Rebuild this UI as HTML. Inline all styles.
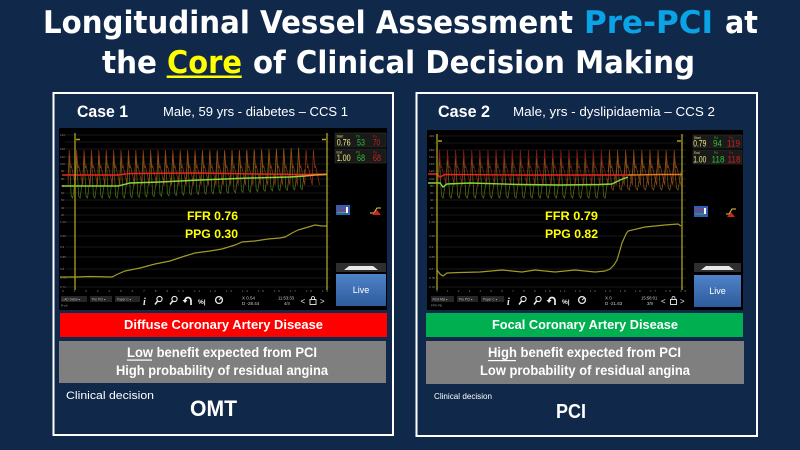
<!DOCTYPE html>
<html><head><meta charset="utf-8"><style>
html,body{margin:0;padding:0;background:#10294a;}
svg{display:block;}
</style></head><body>
<svg xmlns="http://www.w3.org/2000/svg" width="800" height="450" viewBox="0 0 800 450">
<rect x="0" y="0" width="800" height="450" fill="#10294a"/>

<!-- Title -->
<g font-family="'DejaVu Sans', 'Liberation Sans', sans-serif" font-weight="bold" font-size="31" fill="#ffffff">
  <text x="43" y="33" textLength="530" lengthAdjust="spacingAndGlyphs">Longitudinal Vessel Assessment</text>
  <text x="584" y="33" textLength="129" lengthAdjust="spacingAndGlyphs" fill="#0aa4e6">Pre-PCI</text>
  <text x="725" y="33" textLength="33" lengthAdjust="spacingAndGlyphs">at</text>
  <text x="102" y="73" textLength="55" lengthAdjust="spacingAndGlyphs">the</text>
  <text x="167" y="73" textLength="75" lengthAdjust="spacingAndGlyphs" fill="#ffff00">Core</text>
  <text x="253" y="73" textLength="442" lengthAdjust="spacingAndGlyphs">of Clinical Decision Making</text>
</g>
<rect x="166.7" y="75.5" width="75" height="2.5" fill="#ffff00"/>

<!-- Panels -->
<rect x="53.5" y="93" width="339.5" height="342" fill="none" stroke="#ffffff" stroke-width="2"/>
<rect x="416.5" y="93" width="340.5" height="343" fill="none" stroke="#ffffff" stroke-width="2"/>

<!-- Headers -->
<g font-family="'Liberation Sans', sans-serif" fill="#ffffff">
  <text x="77" y="117" font-size="17" font-weight="bold" textLength="51" lengthAdjust="spacingAndGlyphs">Case 1</text>
  <text x="163" y="116" font-size="13" textLength="185" lengthAdjust="spacingAndGlyphs">Male, 59 yrs - diabetes – CCS 1</text>
  <text x="438" y="117" font-size="17" font-weight="bold" textLength="52" lengthAdjust="spacingAndGlyphs">Case 2</text>
  <text x="513" y="116" font-size="13" textLength="202" lengthAdjust="spacingAndGlyphs">Male,  yrs - dyslipidaemia – CCS 2</text>
</g>

<!-- ================= LEFT CHART ================= -->
<rect x="59" y="128" width="328" height="182" fill="#000000"/>
<path d="M65,135H330M65,142H330M65,149H330M65,157H330M65,164H330M65,171H330M65,179H330M65,186H330M65,193H330M65,200H330M65,208H330M65,215H330M65,222H330M65,236H330M65,247H330M65,257H330M65,269H330M65,278H330M65,287H330" stroke="#222" stroke-width="0.7" fill="none"/>
<g font-family="'Liberation Sans', sans-serif" font-size="3" fill="#8a8a8a">
  <text x="60" y="136">140</text><text x="60" y="150">120</text><text x="60" y="158">110</text><text x="60" y="165">100</text><text x="61" y="172">90</text><text x="61" y="180">80</text><text x="61" y="187">70</text><text x="61" y="194">60</text><text x="61" y="201">50</text><text x="61" y="209">40</text><text x="61" y="216">20</text>
  <text x="60" y="223">1.00</text><text x="60" y="237">0.95</text><text x="60" y="248">0.9</text><text x="60" y="258">0.85</text><text x="60" y="270">0.8</text><text x="60" y="279">0.75</text><text x="60" y="288">0.71</text>
  <text x="62" y="292" textLength="266" lengthAdjust="spacing">0&#160;&#160;1&#160;&#160;2&#160;&#160;3&#160;&#160;4&#160;&#160;5&#160;&#160;6&#160;&#160;7&#160;&#160;8&#160;&#160;9&#160;&#160;10&#160;&#160;11&#160;&#160;12&#160;&#160;13&#160;&#160;14&#160;&#160;15&#160;&#160;16&#160;&#160;17&#160;&#160;18&#160;&#160;19</text>
</g>
<!-- waves left -->
<path fill="none" stroke="#5e8a18" stroke-width="0.7" opacity="0.85" d="M68,178l1.2,-22 2,40 1.5,2 2.7,-20 1.2,-22 2,40 1.5,2 2.7,-20 1.2,-22 2,40 1.5,2 2.7,-20 1.2,-22 2,40 1.5,2 2.7,-20 1.2,-22 2,40 1.5,2 2.7,-20 1.2,-22 2,40 1.5,2 2.7,-20 1.2,-22 2,40 1.5,2 2.7,-20 1.2,-22 2,40 1.5,2 2.7,-20.35 1.2,-22 2,40 1.5,2 2.7,-20.35 1.2,-22 2,40 1.5,2 2.7,-20.35 1.2,-22 2,40 1.5,2 2.7,-20.35 1.2,-22 2,40 1.5,2 2.7,-20.35 1.2,-22 2,40 1.5,2 2.7,-20.35 1.2,-22 2,40 1.5,2 2.7,-20.35 1.2,-22 2,40 1.5,2 2.7,-20.35 1.2,-22 2,40 1.5,2 2.7,-20.35 1.2,-22 2,40 1.5,2 2.7,-20.35 1.2,-22 2,40 1.5,2 2.7,-20.35 1.2,-22 2,40 1.5,2 2.7,-20.35 1.2,-22 2,40 1.5,2 2.7,-20.35 1.2,-22 2,40 1.5,2 2.7,-20.35 1.2,-22 2,40 1.5,2 2.7,-20.35 1.2,-22 2,40 1.5,2 2.7,-20.35 1.2,-22 2,40 1.5,2 2.7,-20.35 1.2,-22 2,40 1.5,2 2.7,-20.35 1.2,-22 2,40 1.5,2 2.7,-20.35 1.2,-22 2,40 1.5,2 2.7,-20.35 1.2,-22 2,40 1.5,2 2.7,-20.35 1.2,-22 2,40 1.5,2 2.7,-20.35 1.2,-22 2,40 1.5,2 2.7,-20.35 1.2,-22 2,40 1.5,2 2.7,-20.35 1.2,-22 2,40 1.5,2 2.7,-20.35"/>
<path fill="none" stroke="#b0401a" stroke-width="0.7" opacity="0.85" d="M68,185l1.2,-35 1.4,18 .8,-2 4,19 1.2,-35 1.4,18 .8,-2 4,19 1.2,-35 1.4,18 .8,-2 4,19 1.2,-35 1.4,18 .8,-2 4,19 1.2,-35 1.4,18 .8,-2 4,19 1.2,-35 1.4,18 .8,-2 4,19 1.2,-35 1.4,18 .8,-2 4,19 1.2,-35 1.4,18 .8,-2 4,19 1.2,-35 1.4,18 .8,-2 4,19 1.2,-35 1.4,18 .8,-2 4,19 1.2,-35 1.4,18 .8,-2 4,19 1.2,-35 1.4,18 .8,-2 4,19 1.2,-35 1.4,18 .8,-2 4,19 1.2,-35 1.4,18 .8,-2 4,19 1.2,-35 1.4,18 .8,-2 4,19 1.2,-35 1.4,18 .8,-2 4,19 1.2,-35 1.4,18 .8,-2 4,19 1.2,-35 1.4,18 .8,-2 4,19 1.2,-35 1.4,18 .8,-2 4,19 1.2,-35 1.4,18 .8,-2 4,19 1.2,-35 1.4,18 .8,-2 4,19 1.2,-35 1.4,18 .8,-2 4,19 1.2,-35 1.4,18 .8,-2 4,19 1.2,-35 1.4,18 .8,-2 4,19 1.2,-35 1.4,18 .8,-2 4,19 1.2,-35 1.4,18 .8,-2 4,19 1.2,-35 1.4,18 .8,-2 4,19 1.2,-35 1.4,18 .8,-2 4,19 1.2,-35 1.4,18 .8,-2 4,19 1.2,-35 1.4,18 .8,-2 4,19 1.2,-35 1.4,18 .8,-2 4,19 1.2,-35 1.4,18 .8,-2 4,19 1.2,-35 1.4,18 .8,-2 4,19 1.2,-35 1.4,18 .8,-2 4,19"/>
<!-- mean lines left -->
<polyline fill="none" stroke="#e8281e" stroke-width="1.4" points="62,175 118,175 130,173.5 200,173 260,174 300,174.5 327,174"/>
<polyline fill="none" stroke="#86d83a" stroke-width="1.4" points="62,186 118,186 130,183 160,182 200,180 250,178 290,177 305,176"/>
<polyline fill="none" stroke="#d8a030" stroke-width="1.4" points="305,176 315,175 327,174.5"/>
<!-- lower line left -->
<polyline fill="none" stroke="#a09a28" stroke-width="1.2" points="60,277 75,277 90,276.5 112,277 118,274 125,271 140,268 155,264 170,261 185,256 195,253 210,251 222,249 235,245 242,242 255,241 268,239 280,238 285,237 292,233 298,230 305,228 315,225 322,226 327,226"/>
<!-- vertical markers left -->
<path d="M75,133V290M327,133V290" stroke="#aaa220" stroke-width="1.3"/>
<path d="M76,139.5H80M322,139.5H326" stroke="#aaa220" stroke-width="1.5"/>
<!-- FFR/PPG left -->
<g font-family="'Liberation Sans', sans-serif" font-weight="bold" font-size="12" fill="#ffff00">
  <text x="187" y="220" textLength="51" lengthAdjust="spacingAndGlyphs">FFR 0.76</text>
  <text x="185" y="238" textLength="53" lengthAdjust="spacingAndGlyphs">PPG 0.30</text>
</g>
<!-- sidebar left -->
<rect x="335" y="133" width="51" height="14" fill="#1a1a1a" stroke="#333" stroke-width="0.6"/>
<rect x="335" y="149" width="51" height="14" fill="#1a1a1a" stroke="#333" stroke-width="0.6"/>
<g font-family="'Liberation Sans', sans-serif">
  <text x="336.5" y="137.5" font-size="3.2" fill="#e8e070">Start</text><text x="356" y="137.5" font-size="3.2" fill="#30b030">Pd</text><text x="373" y="137.5" font-size="3.2" fill="#c02020">Pa</text>
  <text x="336.7" y="145.7" font-size="9" fill="#f4f080" textLength="14" lengthAdjust="spacingAndGlyphs">0.76</text>
  <text x="357" y="145.7" font-size="9" fill="#30c030" textLength="8" lengthAdjust="spacingAndGlyphs">53</text>
  <text x="373" y="145.7" font-size="9" fill="#d02020" textLength="7" lengthAdjust="spacingAndGlyphs">70</text>
  <text x="336.5" y="153.5" font-size="3.2" fill="#e8e070">End</text><text x="356" y="153.5" font-size="3.2" fill="#30b030">Pd</text><text x="373" y="153.5" font-size="3.2" fill="#c02020">Pa</text>
  <text x="336.7" y="161" font-size="9" fill="#f4f080" textLength="14" lengthAdjust="spacingAndGlyphs">1.00</text>
  <text x="357" y="161" font-size="9" fill="#30c030" textLength="8" lengthAdjust="spacingAndGlyphs">68</text>
  <text x="373" y="161" font-size="9" fill="#d02020" textLength="8" lengthAdjust="spacingAndGlyphs">68</text>
</g>
<rect x="336" y="205" width="14" height="10" fill="#2b5fb8"/>
<path d="M337,208H348M337,211H346" stroke="#e03030" stroke-width="0.8"/><path d="M337,212.5H346" stroke="#40c040" stroke-width="0.8"/>
<rect x="346" y="207" width="2" height="6" fill="#fff"/>
<path d="M370,213 L374,213 L377,208 L381,208" stroke="#e8d040" stroke-width="1" fill="none"/>
<polygon points="372,215 377,210 381,215" fill="#d02020"/>
<rect x="336" y="263" width="50" height="9" fill="#2e2e2e"/>
<polygon points="344,270 349,266 373,266 378,270" fill="#e8e8e8"/>
<defs>
  <linearGradient id="lv" x1="0" y1="0" x2="0" y2="1"><stop offset="0" stop-color="#4f82c8"/><stop offset="1" stop-color="#2e5c9c"/></linearGradient>
</defs>
<rect x="336" y="274" width="50" height="32" fill="url(#lv)"/>
<text x="361" y="293" font-family="'Liberation Sans', sans-serif" font-size="9" fill="#ffffff" text-anchor="middle">Live</text>
<!-- toolbar left -->
<g font-family="'Liberation Sans', sans-serif">
  <rect x="61" y="296" width="26" height="6" fill="#262626"/><text x="62.5" y="300.3" font-size="3.2" fill="#bbb">LAD Distal  ▾</text>
  <rect x="90" y="296" width="22" height="6" fill="#262626"/><text x="92" y="300.3" font-size="3.2" fill="#bbb">Pre PCI  ▾</text>
  <rect x="115" y="296" width="25" height="6" fill="#262626"/><text x="117" y="300.3" font-size="3.2" fill="#bbb">Paper C  ▾</text>
  <text x="61" y="306.5" font-size="3" fill="#999">R-pb</text>
  <text x="143" y="305" font-size="10" font-style="italic" font-weight="bold" font-family="'Liberation Serif', serif" fill="#eee">i</text>
  <circle cx="159.5" cy="299" r="2.6" fill="none" stroke="#eee" stroke-width="1.1"/><path d="M157.6,301 L155,304.5" stroke="#eee" stroke-width="1.5"/>
  <circle cx="174.5" cy="299" r="2.6" fill="none" stroke="#eee" stroke-width="1.1"/><path d="M172.6,301 L170,304.5" stroke="#eee" stroke-width="1.5"/>
  <path d="M191,305 V300.5 a3,3 0 0 0 -6,0" fill="none" stroke="#eee" stroke-width="1.7"/><polygon points="182.5,300 187.5,300 185,303" fill="#eee"/>
  <text x="198" y="304" font-size="6.5" font-weight="bold" fill="#eee">%|</text>
  <circle cx="219" cy="300" r="3.4" fill="none" stroke="#eee" stroke-width="1.3"/><path d="M219,300 L222,297.5" stroke="#eee" stroke-width="1"/>
  <text x="242" y="299.5" font-size="4.5" fill="#ccc">X 0.54</text><text x="242" y="305" font-size="4.5" fill="#ccc">D -28.44</text>
  <text x="278" y="299.5" font-size="4.2" fill="#ccc">11:53:33</text><text x="284" y="305" font-size="4.2" fill="#ccc">4/4</text>
  <text x="300.5" y="304" font-size="8" fill="#eee">&lt;</text>
  <rect x="310" y="299.5" width="6" height="5" fill="none" stroke="#eee" stroke-width="0.9"/><path d="M311.5,299.5 v-1.5 a1.5,1.5 0 0 1 3,0 v1.5" fill="none" stroke="#eee" stroke-width="0.8"/>
  <text x="320" y="304" font-size="8" fill="#eee">&gt;</text>
</g>

<!-- ================= RIGHT CHART ================= -->
<rect x="427" y="130" width="316" height="180" fill="#000000"/>
<path d="M433,136H686M433,143H686M433,150H686M433,157H686M433,164H686M433,171H686M433,179H686M433,186H686M433,193H686M433,200H686M433,208H686M433,215H686M433,222H686M433,236H686M433,247H686M433,257H686M433,269H686M433,278H686M433,287H686" stroke="#222" stroke-width="0.7" fill="none"/>
<g font-family="'Liberation Sans', sans-serif" font-size="3" fill="#8a8a8a">
  <text x="429" y="137">220</text><text x="429" y="151">180</text><text x="429" y="158">160</text><text x="429" y="165">140</text><text x="429" y="172">120</text><text x="429" y="180">100</text><text x="430" y="187">80</text><text x="430" y="194">60</text><text x="430" y="201">40</text><text x="430" y="209">20</text><text x="431" y="216">0</text>
  <text x="429" y="223">1.00</text><text x="429" y="237">0.95</text><text x="429" y="248">0.9</text><text x="429" y="258">0.85</text><text x="429" y="270">0.8</text><text x="429" y="279">0.75</text><text x="429" y="288">0.72</text>
  <text x="436" y="292" textLength="250" lengthAdjust="spacing">0&#160;&#160;1&#160;&#160;2&#160;&#160;3&#160;&#160;4&#160;&#160;5&#160;&#160;6&#160;&#160;7&#160;&#160;8&#160;&#160;9&#160;&#160;10&#160;&#160;11&#160;&#160;12&#160;&#160;13&#160;&#160;14&#160;&#160;15&#160;&#160;16&#160;&#160;17&#160;&#160;18&#160;&#160;19</text>
</g>
<!-- waves right -->
<path fill="none" stroke="#6a8a1a" stroke-width="0.7" opacity="0.85" d="M438,178l1.3,-20 2.2,38 1.6,2 3,-20 1.3,-20 2.2,38 1.6,2 3,-20 1.3,-20 2.2,38 1.6,2 3,-20 1.3,-20 2.2,38 1.6,2 3,-20 1.3,-20 2.2,38 1.6,2 3,-20 1.3,-20 2.2,38 1.6,2 3,-20 1.3,-20 2.2,38 1.6,2 3,-20 1.3,-20 2.2,38 1.6,2 3,-20 1.3,-20 2.2,38 1.6,2 3,-20 1.3,-20 2.2,38 1.6,2 3,-20 1.3,-20 2.2,38 1.6,2 3,-20 1.3,-20 2.2,38 1.6,2 3,-20 1.3,-20 2.2,38 1.6,2 3,-20 1.3,-20 2.2,38 1.6,2 3,-20 1.3,-20 2.2,38 1.6,2 3,-20 1.3,-20 2.2,38 1.6,2 3,-20 1.3,-20 2.2,38 1.6,2 3,-20 1.3,-20 2.2,38 1.6,2 3,-20 1.3,-20 2.2,38 1.6,2 3,-20 1.3,-20 2.2,38 1.6,2 3,-20 1.3,-20 2.2,38 1.6,2 3,-20"/>
<path fill="none" stroke="#9a6a1c" stroke-width="0.7" opacity="0.85" d="M608.1,172l1.3,-14 2.2,30 1.6,2 3,-18 1.3,-14 2.2,30 1.6,2 3,-18 1.3,-14 2.2,30 1.6,2 3,-18 1.3,-14 2.2,30 1.6,2 3,-18 1.3,-14 2.2,30 1.6,2 3,-18 1.3,-14 2.2,30 1.6,2 3,-18 1.3,-14 2.2,30 1.6,2 3,-18 1.3,-14 2.2,30 1.6,2 3,-18 1.3,-14 2.2,30 1.6,2 3,-18"/>
<path fill="none" stroke="#981c18" stroke-width="0.7" opacity="0.9" d="M438,185l1.3,-35 1.5,18 .8,-2 4.5,19 1.3,-35 1.5,18 .8,-2 4.5,19 1.3,-35 1.5,18 .8,-2 4.5,19 1.3,-35 1.5,18 .8,-2 4.5,19 1.3,-35 1.5,18 .8,-2 4.5,19 1.3,-35 1.5,18 .8,-2 4.5,19 1.3,-35 1.5,18 .8,-2 4.5,19 1.3,-35 1.5,18 .8,-2 4.5,19 1.3,-35 1.5,18 .8,-2 4.5,19 1.3,-35 1.5,18 .8,-2 4.5,19 1.3,-35 1.5,18 .8,-2 4.5,19 1.3,-35 1.5,18 .8,-2 4.5,19 1.3,-35 1.5,18 .8,-2 4.5,19 1.3,-35 1.5,18 .8,-2 4.5,19 1.3,-35 1.5,18 .8,-2 4.5,19 1.3,-35 1.5,18 .8,-2 4.5,19 1.3,-35 1.5,18 .8,-2 4.5,19 1.3,-35 1.5,18 .8,-2 4.5,19 1.3,-35 1.5,18 .8,-2 4.5,19 1.3,-35 1.5,18 .8,-2 4.5,19 1.3,-35 1.5,18 .8,-2 4.5,19"/>
<path fill="none" stroke="#a8501a" stroke-width="0.7" opacity="0.85" d="M608.1,185l1.3,-35 1.5,18 .8,-2 4.5,19 1.3,-35 1.5,18 .8,-2 4.5,19 1.3,-35 1.5,18 .8,-2 4.5,19 1.3,-35 1.5,18 .8,-2 4.5,19 1.3,-35 1.5,18 .8,-2 4.5,19 1.3,-35 1.5,18 .8,-2 4.5,19 1.3,-35 1.5,18 .8,-2 4.5,19 1.3,-35 1.5,18 .8,-2 4.5,19 1.3,-35 1.5,18 .8,-2 4.5,19"/>
<!-- mean lines right -->
<polyline fill="none" stroke="#e8281e" stroke-width="1.4" points="428,174 437,174 440,177 445,174.5 520,175 612,175 628,175"/>
<polyline fill="none" stroke="#e07a22" stroke-width="1.4" points="628,175 660,174.5 682,174.5"/>
<polyline fill="none" stroke="#86d83a" stroke-width="1.4" points="428,183 440,183 443,187 447,184 470,183 520,184.5 560,185 600,184.5 612,184 620,180 628,177"/>
<!-- lower line right -->
<polyline fill="none" stroke="#a09a28" stroke-width="1.2" points="437,270 440,274 443,276 447,273 460,272.5 480,272 502,270 522,272 535,270 555,272 575,270 595,272 605,271 610,269 614,265 617,260 620,250 622,243 626,234 628,231 645,227 665,225 678,224 681,226"/>
<!-- vertical markers right -->
<path d="M437,134V290M682,134V290" stroke="#aaa220" stroke-width="1.3"/>
<path d="M438,141H442M677,141H681" stroke="#aaa220" stroke-width="1.5"/>
<!-- FFR/PPG right -->
<g font-family="'Liberation Sans', sans-serif" font-weight="bold" font-size="12" fill="#ffff00">
  <text x="545" y="220" textLength="53" lengthAdjust="spacingAndGlyphs">FFR 0.79</text>
  <text x="545" y="238" textLength="53" lengthAdjust="spacingAndGlyphs">PPG 0.82</text>
</g>
<!-- sidebar right -->
<rect x="693" y="135" width="49" height="13" fill="#1a1a1a" stroke="#333" stroke-width="0.6"/>
<rect x="693" y="150" width="49" height="14" fill="#1a1a1a" stroke="#333" stroke-width="0.6"/>
<g font-family="'Liberation Sans', sans-serif">
  <text x="694" y="139" font-size="3.2" fill="#e8e070">Start</text><text x="714" y="139" font-size="3.2" fill="#30b030">Pd</text><text x="729" y="139" font-size="3.2" fill="#c02020">Pa</text>
  <text x="693.3" y="146.5" font-size="9" fill="#f4f080" textLength="13" lengthAdjust="spacingAndGlyphs">0.79</text>
  <text x="713" y="146.5" font-size="9" fill="#30c030" textLength="9" lengthAdjust="spacingAndGlyphs">94</text>
  <text x="727" y="146.5" font-size="9" fill="#d02020" textLength="13" lengthAdjust="spacingAndGlyphs">119</text>
  <text x="694" y="154" font-size="3.2" fill="#e8e070">End</text><text x="714" y="154" font-size="3.2" fill="#30b030">Pd</text><text x="729" y="154" font-size="3.2" fill="#c02020">Pa</text>
  <text x="693.3" y="162.3" font-size="9" fill="#f4f080" textLength="13" lengthAdjust="spacingAndGlyphs">1.00</text>
  <text x="711.5" y="162.3" font-size="9" fill="#30c030" textLength="13" lengthAdjust="spacingAndGlyphs">118</text>
  <text x="727.5" y="162.3" font-size="9" fill="#d02020" textLength="13" lengthAdjust="spacingAndGlyphs">118</text>
</g>
<rect x="694" y="206" width="14" height="11" fill="#2b5fb8"/>
<path d="M695,209H706M695,212H704" stroke="#e03030" stroke-width="0.8"/><path d="M695,214H704" stroke="#40c040" stroke-width="0.8"/>
<rect x="704" y="208" width="2" height="6" fill="#fff"/>
<path d="M726,214 L729,214 L732,209 L736,209" stroke="#e8d040" stroke-width="1" fill="none"/>
<polygon points="727,217 731,212 735,217" fill="#d02020"/>
<rect x="694" y="263" width="47" height="9" fill="#2e2e2e"/>
<polygon points="701,270 706,266 729,266 734,270" fill="#e8e8e8"/>
<rect x="694" y="275" width="47" height="32" fill="url(#lv)"/>
<text x="717.5" y="294" font-family="'Liberation Sans', sans-serif" font-size="9" fill="#ffffff" text-anchor="middle">Live</text>
<!-- toolbar right -->
<g font-family="'Liberation Sans', sans-serif">
  <rect x="431" y="296" width="23" height="6" fill="#262626"/><text x="432.5" y="300.3" font-size="3.2" fill="#bbb">RCA Mid  ▾</text>
  <rect x="457" y="296" width="21" height="6" fill="#262626"/><text x="459" y="300.3" font-size="3.2" fill="#bbb">Pre PCI  ▾</text>
  <rect x="481" y="296" width="23" height="6" fill="#262626"/><text x="483" y="300.3" font-size="3.2" fill="#bbb">Paper C  ▾</text>
  <text x="431" y="306.5" font-size="3" fill="#999">FFR-PB</text>
  <text x="507" y="305" font-size="10" font-style="italic" font-weight="bold" font-family="'Liberation Serif', serif" fill="#eee">i</text>
  <circle cx="523.5" cy="299" r="2.6" fill="none" stroke="#eee" stroke-width="1.1"/><path d="M521.6,301 L519,304.5" stroke="#eee" stroke-width="1.5"/>
  <circle cx="538.5" cy="299" r="2.6" fill="none" stroke="#eee" stroke-width="1.1"/><path d="M536.6,301 L534,304.5" stroke="#eee" stroke-width="1.5"/>
  <path d="M555,305 V300.5 a3,3 0 0 0 -6,0" fill="none" stroke="#eee" stroke-width="1.7"/><polygon points="546.5,300 551.5,300 549,303" fill="#eee"/>
  <text x="562" y="304" font-size="6.5" font-weight="bold" fill="#eee">%|</text>
  <circle cx="582" cy="300" r="3.4" fill="none" stroke="#eee" stroke-width="1.3"/><path d="M582,300 L585,297.5" stroke="#eee" stroke-width="1"/>
  <text x="605" y="299.5" font-size="4.5" fill="#ccc">X 0</text><text x="605" y="305" font-size="4.5" fill="#ccc">D -21.63</text>
  <text x="641" y="299.5" font-size="4.2" fill="#ccc">15:58:01</text><text x="647" y="305" font-size="4.2" fill="#ccc">3/9</text>
  <text x="661" y="304" font-size="8" fill="#eee">&lt;</text>
  <rect x="670.5" y="299.5" width="6" height="5" fill="none" stroke="#eee" stroke-width="0.9"/><path d="M672,299.5 v-1.5 a1.5,1.5 0 0 1 3,0 v1.5" fill="none" stroke="#eee" stroke-width="0.8"/>
  <text x="680" y="304" font-size="8" fill="#eee">&gt;</text>
</g>

<!-- ================= BARS & BOXES ================= -->
<rect x="60" y="313" width="327" height="24" fill="#ff0000"/>
<rect x="426" y="313" width="317" height="24" fill="#00b050"/>
<rect x="59" y="341" width="327" height="42" fill="#7f7f7f"/>
<rect x="426" y="341" width="318" height="43" fill="#7f7f7f"/>
<g font-family="'Liberation Sans', sans-serif" font-weight="bold" fill="#ffffff">
  <text x="124" y="329" font-size="13" textLength="199" lengthAdjust="spacingAndGlyphs">Diffuse Coronary Artery Disease</text>
  <text x="492" y="329" font-size="13" textLength="186" lengthAdjust="spacingAndGlyphs">Focal Coronary Artery Disease</text>
  <text x="127" y="357" font-size="13.5" textLength="190" lengthAdjust="spacingAndGlyphs">Low benefit expected from PCI</text>
  <text x="116" y="375" font-size="13.5" textLength="212" lengthAdjust="spacingAndGlyphs">High probability of residual angina</text>
  <text x="488" y="357" font-size="13.5" textLength="193" lengthAdjust="spacingAndGlyphs">High benefit expected from PCI</text>
  <text x="480" y="375" font-size="13.5" textLength="210" lengthAdjust="spacingAndGlyphs">Low probability of residual angina</text>
  <text x="190" y="416" font-size="22" textLength="47" lengthAdjust="spacingAndGlyphs">OMT</text>
  <text x="556" y="418" font-size="20" textLength="30" lengthAdjust="spacingAndGlyphs">PCI</text>
</g>
<rect x="127" y="359.5" width="25" height="1.2" fill="#ffffff"/>
<rect x="488" y="360" width="28" height="1.2" fill="#ffffff"/>
<g font-family="'Liberation Sans', sans-serif" fill="#ffffff">
  <text x="66" y="399" font-size="11" textLength="88" lengthAdjust="spacingAndGlyphs">Clinical decision</text>
  <text x="434" y="399" font-size="8" textLength="58" lengthAdjust="spacingAndGlyphs">Clinical decision</text>
</g>
</svg>
</body></html>
